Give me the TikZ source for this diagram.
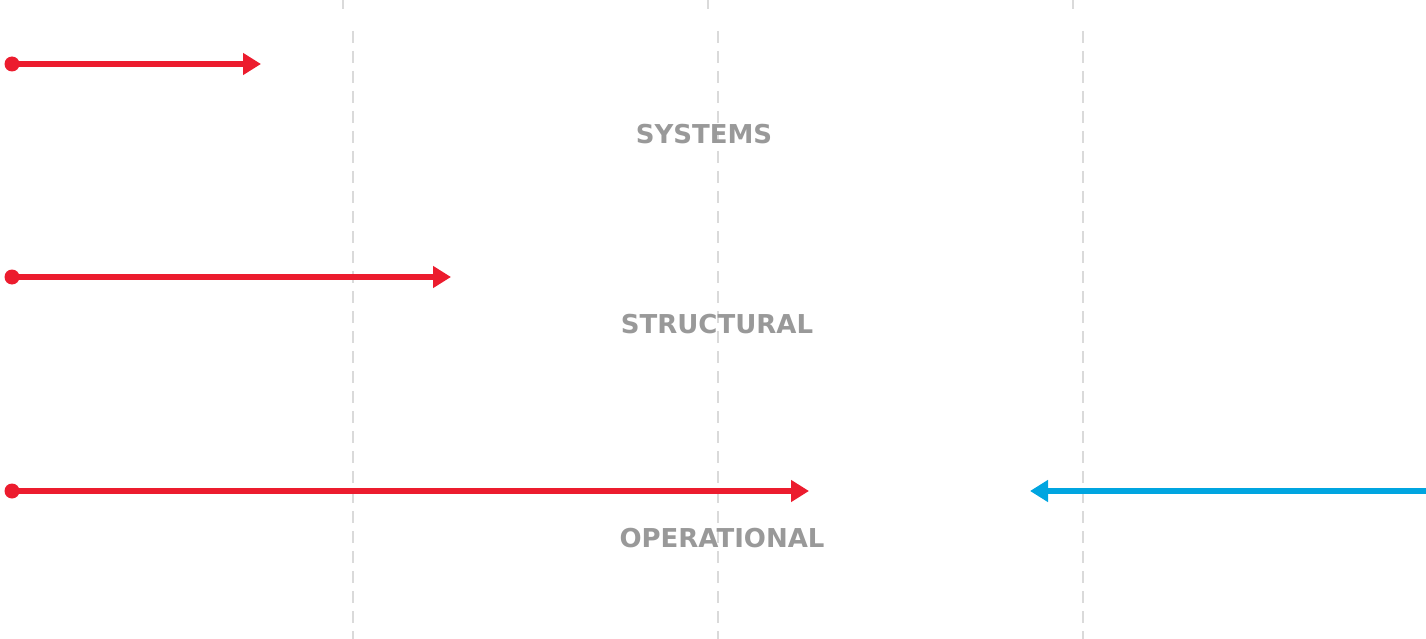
\documentclass[tikz,border=0pt]{standalone}
\usepackage{fontspec}
\setmainfont{DejaVu Sans}
\usetikzlibrary{arrows.meta}
\definecolor{ared}{HTML}{EC1C2E}
\definecolor{ablue}{HTML}{00A5E0}
\definecolor{lbl}{HTML}{999999}
\definecolor{grid}{HTML}{DADADA}
\tikzset{
  gridline/.style={draw=grid, line width=1.6pt, dash pattern=on 12pt off 8pt},
  gridtick/.style={draw=grid, line width=1.6pt},
  redarrow/.style={draw=ared, line width=5.5pt, -{Triangle[length=18pt,width=21pt]}},
  bluearrow/.style={draw=ablue, line width=5.5pt, -{Triangle[length=18pt,width=21pt]}},
  startdot/.style={circle, fill=ared, inner sep=0pt, minimum size=15pt},
  lbltext/.style={text=lbl, font=\fontsize{26}{30}\selectfont\bfseries, inner sep=0pt}
}
\begin{document}
\begin{tikzpicture}[x=1pt,y=-1pt]
\useasboundingbox (0,0) rectangle (1426,639);
% grid lines
\foreach \gx in {353,718,1083}{
  \coordinate (gt\gx) at (\gx,31);
  \coordinate (gb\gx) at (\gx,639);
  \draw[gridline] (gt\gx) -- (gb\gx);
}
\foreach \gx in {343,708,1073}{
  \coordinate (tt\gx) at (\gx,0);
  \coordinate (tb\gx) at (\gx,9);
  \draw[gridtick] (tt\gx) -- (tb\gx);
}
% labels
\node[lbltext] (sys) at (704,134) {SYSTEMS};
\node[lbltext] (str) at (717,324) {STRUCTURAL};
\node[lbltext] (ops) at (722,538) {OPERATIONAL};
% red arrows
\node[startdot] (d1) at (12,64) {};
\coordinate (e1) at (261,64);
\draw[redarrow] (d1.center) -- (e1);
\node[startdot] (d2) at (12,277) {};
\coordinate (e2) at (451,277);
\draw[redarrow] (d2.center) -- (e2);
\node[startdot] (d3) at (12,491) {};
\coordinate (e3) at (809,491);
\draw[redarrow] (d3.center) -- (e3);
% blue arrow
\coordinate (b0) at (1426,491);
\coordinate (b1) at (1030,491);
\draw[bluearrow] (b0) -- (b1);
\end{tikzpicture}
\end{document}
